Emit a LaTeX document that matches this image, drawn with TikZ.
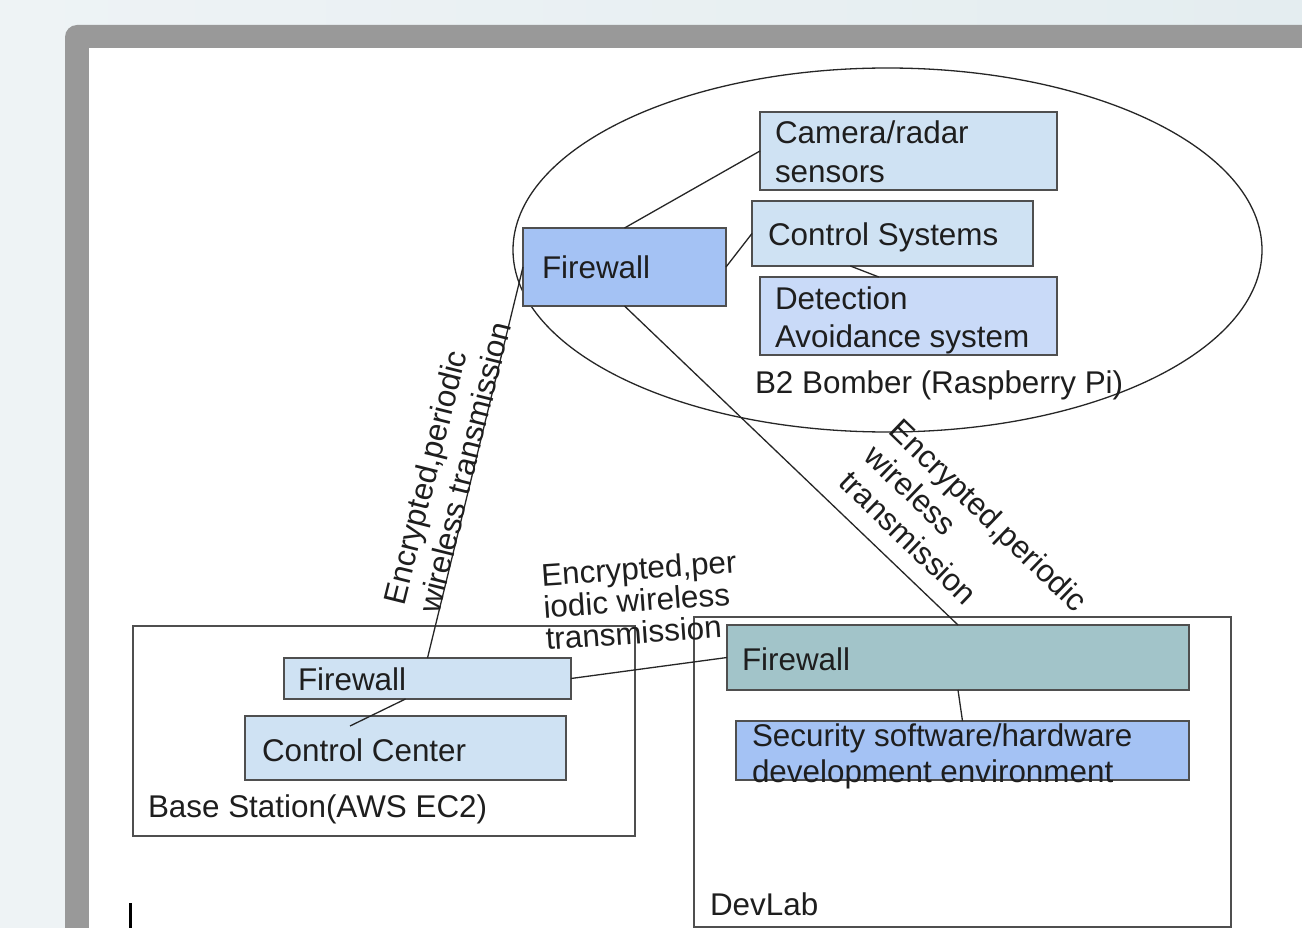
\documentclass[tikz,border=0pt]{standalone}
\usepackage{fontspec}
\setmainfont{Liberation Sans}
\usetikzlibrary{shapes.geometric,calc}
\definecolor{bgA}{HTML}{EEF3F5}
\definecolor{bgB}{HTML}{E4EDF0}
\definecolor{frameg}{HTML}{999999}
\definecolor{boxline}{HTML}{4F4F4F}
\definecolor{lblue}{HTML}{CFE2F3}
\definecolor{lviolet}{HTML}{C9DAF8}
\definecolor{mblue}{HTML}{A4C2F4}
\definecolor{teal}{HTML}{A2C4C9}
\definecolor{txt}{HTML}{1E1E1E}
\tikzset{
  bx/.style={draw=boxline, line width=1.4pt, inner sep=0pt, outer sep=0pt},
  wire/.style={draw=black!85, line width=1.3pt},
  lbl/.style={text=txt, font=\fontsize{31.4}{37}\selectfont, inner sep=0pt, outer sep=0pt},
  rlbl/.style={text=txt, font=\fontsize{31.4}{36}\selectfont, inner sep=0pt, align=left},
}
\begin{document}
\begin{tikzpicture}[x=1pt,y=-1pt]
\useasboundingbox (0,0) rectangle (1302,928);
\clip (0,0) rectangle (1302,928);
% background
\shade[left color=bgA, right color=bgB] (0,0) rectangle (1302,928);
\fill[frameg, rounded corners=12pt] (65,25) rectangle (1340,980);
\fill[white] (89,48) rectangle (1340,980);

% bomber ellipse
\node[ellipse, draw=black!85, line width=1.3pt, minimum width=749pt, minimum height=364pt, inner sep=0pt] (bomber) at (887.5,250) {};

% outer boxes
\node[bx, fill=white, minimum width=502pt, minimum height=210pt] (bs) at (384,731) {};
\node[bx, fill=white, minimum width=537pt, minimum height=310pt] (dev) at (962.5,772) {};

% inner boxes
\node[bx, fill=mblue, minimum width=203pt, minimum height=78pt] (fwT) at (624.5,267) {};
\node[bx, fill=lblue, minimum width=297pt, minimum height=78pt] (cam) at (908.5,151) {};
\node[bx, fill=lblue, minimum width=281pt, minimum height=65pt] (ctl) at (892.5,233.5) {};
\node[bx, fill=lviolet, minimum width=297pt, minimum height=78pt] (det) at (908.5,316) {};
\node[bx, fill=lblue, minimum width=287pt, minimum height=41pt] (bfw) at (427.5,678.5) {};
\node[bx, fill=lblue, minimum width=321pt, minimum height=64pt] (cc) at (405.5,748) {};
\node[bx, fill=teal, minimum width=462pt, minimum height=65pt] (dfw) at (958,657.5) {};
\node[bx, fill=mblue, minimum width=453pt, minimum height=59pt] (sec) at (962.5,750.5) {};

% connectors
\coordinate (ccEnd) at (350,726);
\draw[wire] (fwT.north) -- (cam.west);
\draw[wire] (fwT.east) -- (ctl.west);
\draw[wire] ($(ctl.south west)!0.35!(ctl.south east)$) -- ($(det.north west)!0.40!(det.north east)$);
\draw[wire] (fwT.west) -- (bfw.north);
\draw[wire] (fwT.south) -- (dfw.north);
\draw[wire] (bfw.east) -- (dfw.west);
\draw[wire] ($(bfw.south)+(-22,0)$) -- (ccEnd);
\draw[wire] (dfw.south) -- (sec.north);

% box texts
\node[lbl, anchor=base west] (tcam1) at (775,144) {Camera/radar};
\node[lbl, anchor=base west] (tcam2) at (775,183) {sensors};
\node[lbl, anchor=base west] (tfwT) at (542,279) {Firewall};
\node[lbl, anchor=base west] (tctl) at (768,246) {Control Systems};
\node[lbl, anchor=base west] (tdet1) at (775,309) {Detection};
\node[lbl, anchor=base west] (tdet2) at (775,347) {Avoidance system};
\node[lbl, anchor=base west] (tb2) at (755,393) {B2 Bomber (Raspberry Pi)};
\node[lbl, anchor=base west] (tbfw) at (298,690) {Firewall};
\node[lbl, anchor=base west] (tcc) at (262,761) {Control Center};
\node[lbl, anchor=base west] (tbs) at (148,817) {Base Station(AWS EC2)};
\node[lbl, anchor=base west] (tdfw) at (742,670) {Firewall};
\node[lbl, anchor=base west] (tsec1) at (752,746) {Security software/hardware};
\node[lbl, anchor=base west] (tsec2) at (752,782) {development environment};
\node[lbl, anchor=base west] (tdev) at (710,915) {DevLab};

% connector labels
\node[rlbl, rotate=76] (l1) at (447,463) {Encrypted,periodic\\wireless transmission};
\node[rlbl, rotate=-44] (l2) at (964,541) {Encrypted,periodic\\wireless\\transmission};
\node[rlbl, rotate=4, font=\fontsize{31.4}{32}\selectfont] (l3) at (641,600) {Encrypted,per\\iodic wireless\\transmission};

% cursor mark
\draw[black, line width=3pt] (130,903) -- (130,930);
\end{tikzpicture}
\end{document}
